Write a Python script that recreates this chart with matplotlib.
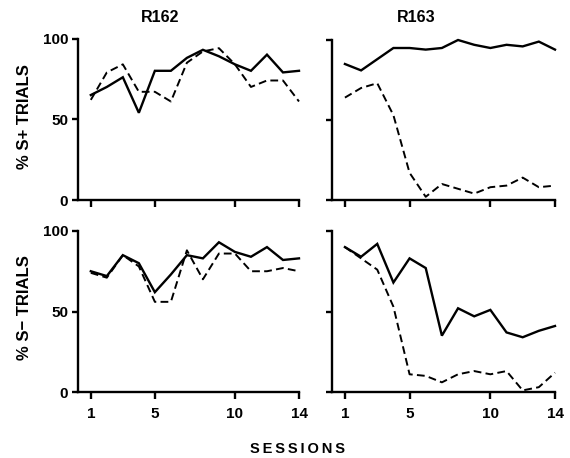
import matplotlib
matplotlib.use("Agg")
import matplotlib.pyplot as plt

sessions = list(range(1, 15))

# R162, % S+ trials
r162_splus_solid = [65, 70, 76, 54, 80, 80, 88, 93, 89, 84, 80, 90, 79, 80]
r162_splus_dashed = [62, 79, 84, 67, 67, 61, 85, 92, 94, 84, 70, 74, 74, 61]
# R163, % S+ trials
r163_splus_solid = [85, 81, 88, 95, 95, 94, 95, 100, 97, 95, 97, 96, 99, 94]
r163_splus_dashed = [64, 70, 73, 53, 17, 2, 10, 7, 4, 8, 9, 14, 8, 9]
# R162, % S- trials
r162_sminus_solid = [75, 72, 85, 80, 62, 73, 85, 83, 93, 87, 84, 90, 82, 83]
r162_sminus_dashed = [74, 71, 85, 78, 56, 56, 88, 70, 86, 86, 75, 75, 77, 75]
# R163, % S- trials
r163_sminus_solid = [90, 84, 92, 68, 83, 77, 35, 52, 47, 51, 37, 34, 38, 41]
r163_sminus_dashed = [90, 83, 76, 53, 11, 10, 6, 11, 13, 11, 13, 1, 3, 12]

titles = ["R162", "R163"]
xticks = [1, 5, 10, 14]
yticks = [0, 50, 100]

plt.rcParams['font.family'] = ['Liberation Sans', 'DejaVu Sans']
plt.rcParams['font.weight'] = 'bold'

fig = plt.figure(figsize=(5.70, 4.58), dpi=100)
W, H = 570, 458

def add_ax(x0, x1, ytop, ybot):
    return fig.add_axes([x0 / W, 1 - ybot / H, (x1 - x0) / W, (ybot - ytop) / H])

ax_tl = add_ax(78, 299, 38.5, 200)
ax_tr = add_ax(332, 555, 40, 200)
ax_bl = add_ax(78, 299, 231, 392)
ax_br = add_ax(332, 555, 231, 392)

panels = [
    (ax_tl, r162_splus_solid, r162_splus_dashed, True, False),
    (ax_tr, r163_splus_solid, r163_splus_dashed, False, False),
    (ax_bl, r162_sminus_solid, r162_sminus_dashed, True, True),
    (ax_br, r163_sminus_solid, r163_sminus_dashed, False, True),
]

for ax, solid, dashed, ylab, xlab in panels:
    ax.plot(sessions, solid, color='black', lw=1.7, ls='-', clip_on=False,
            solid_joinstyle='miter')
    ax.plot(sessions, dashed, color='black', lw=1.4, ls=(0, (4, 2.2)), clip_on=False)
    ax.set_xlim(0.2, 14)
    ax.set_ylim(0, 100)
    for s in ['top', 'right']:
        ax.spines[s].set_visible(False)
    for s in ['left', 'bottom']:
        ax.spines[s].set_linewidth(1.7)
    ax.set_xticks(xticks)
    ax.set_yticks(yticks)
    ax.tick_params(axis='x', direction='out', length=5, width=1.7, pad=6,
                   labelsize=11, labelbottom=xlab)
    ax.tick_params(axis='y', direction='out', length=4, width=1.7, pad=3,
                   labelsize=11, labelleft=ylab)
    for lab in ax.get_xticklabels() + ax.get_yticklabels():
        lab.set_fontweight('bold')

fig.text(160 / W, 1 - 17 / H, titles[0], ha='center', va='center',
         fontsize=11.5, fontweight='bold')
fig.text(416 / W, 1 - 17 / H, titles[1], ha='center', va='center',
         fontsize=11.5, fontweight='bold')
fig.text(25 / W, 1 - 117 / H, "% S+ TRIALS", rotation=90, ha='center',
         va='center', fontsize=12, fontweight='bold')
fig.text(25 / W, 1 - 308 / H, "% S\u2212 TRIALS", rotation=90, ha='center',
         va='center', fontsize=12, fontweight='bold')
fig.text(298 / W, 1 - 449 / H, "\u2009".join("SESSIONS"), ha='center', va='center',
         fontsize=10.5, fontweight='bold')

fig.savefig("out.png", dpi=100)
